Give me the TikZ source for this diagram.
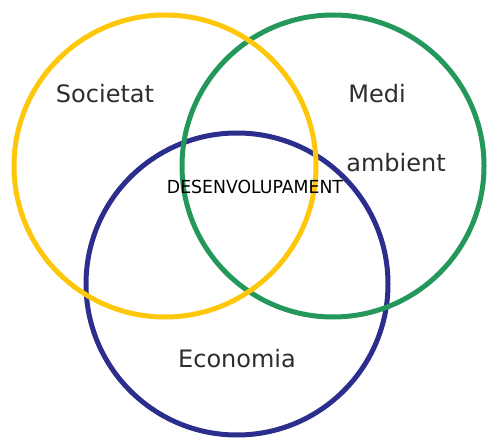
\documentclass[tikz,border=0pt]{standalone}
\usepackage{fontspec}
\setmainfont{DejaVu Sans}
\definecolor{ringyellow}{RGB}{255,199,10}
\definecolor{ringgreen}{RGB}{36,152,90}
\definecolor{ringblue}{RGB}{44,46,142}
\definecolor{labelgray}{RGB}{45,45,45}
\tikzset{
    ring/.style={line width=5pt},
    area/.style={text=labelgray, font=\fontsize{24}{28}\selectfont, inner sep=0pt},
    core/.style={text=black, font=\fontsize{18}{21}\selectfont, inner sep=0pt, xscale=0.96}
}

\begin{document}
\begin{tikzpicture}[x=1pt,y=-1pt]
    \useasboundingbox (0,0) rectangle (487,438);
    \draw[ring,ringblue] (237,284) circle (151);
    \draw[ring,ringgreen] (333,166) circle (151);
    \draw[ring,ringyellow] (165,166) circle (151);
    \node[area] (societat) at (105,94) {Societat};
    \node[area] (medi) at (377,94) {Medi};
    \node[area] (ambient) at (396,163) {ambient};
    \node[area] (economia) at (237,359) {Economia};
    \node[core] (desenv) at (255,187) {DESENVOLUPAMENT};
\end{tikzpicture}
\end{document}
